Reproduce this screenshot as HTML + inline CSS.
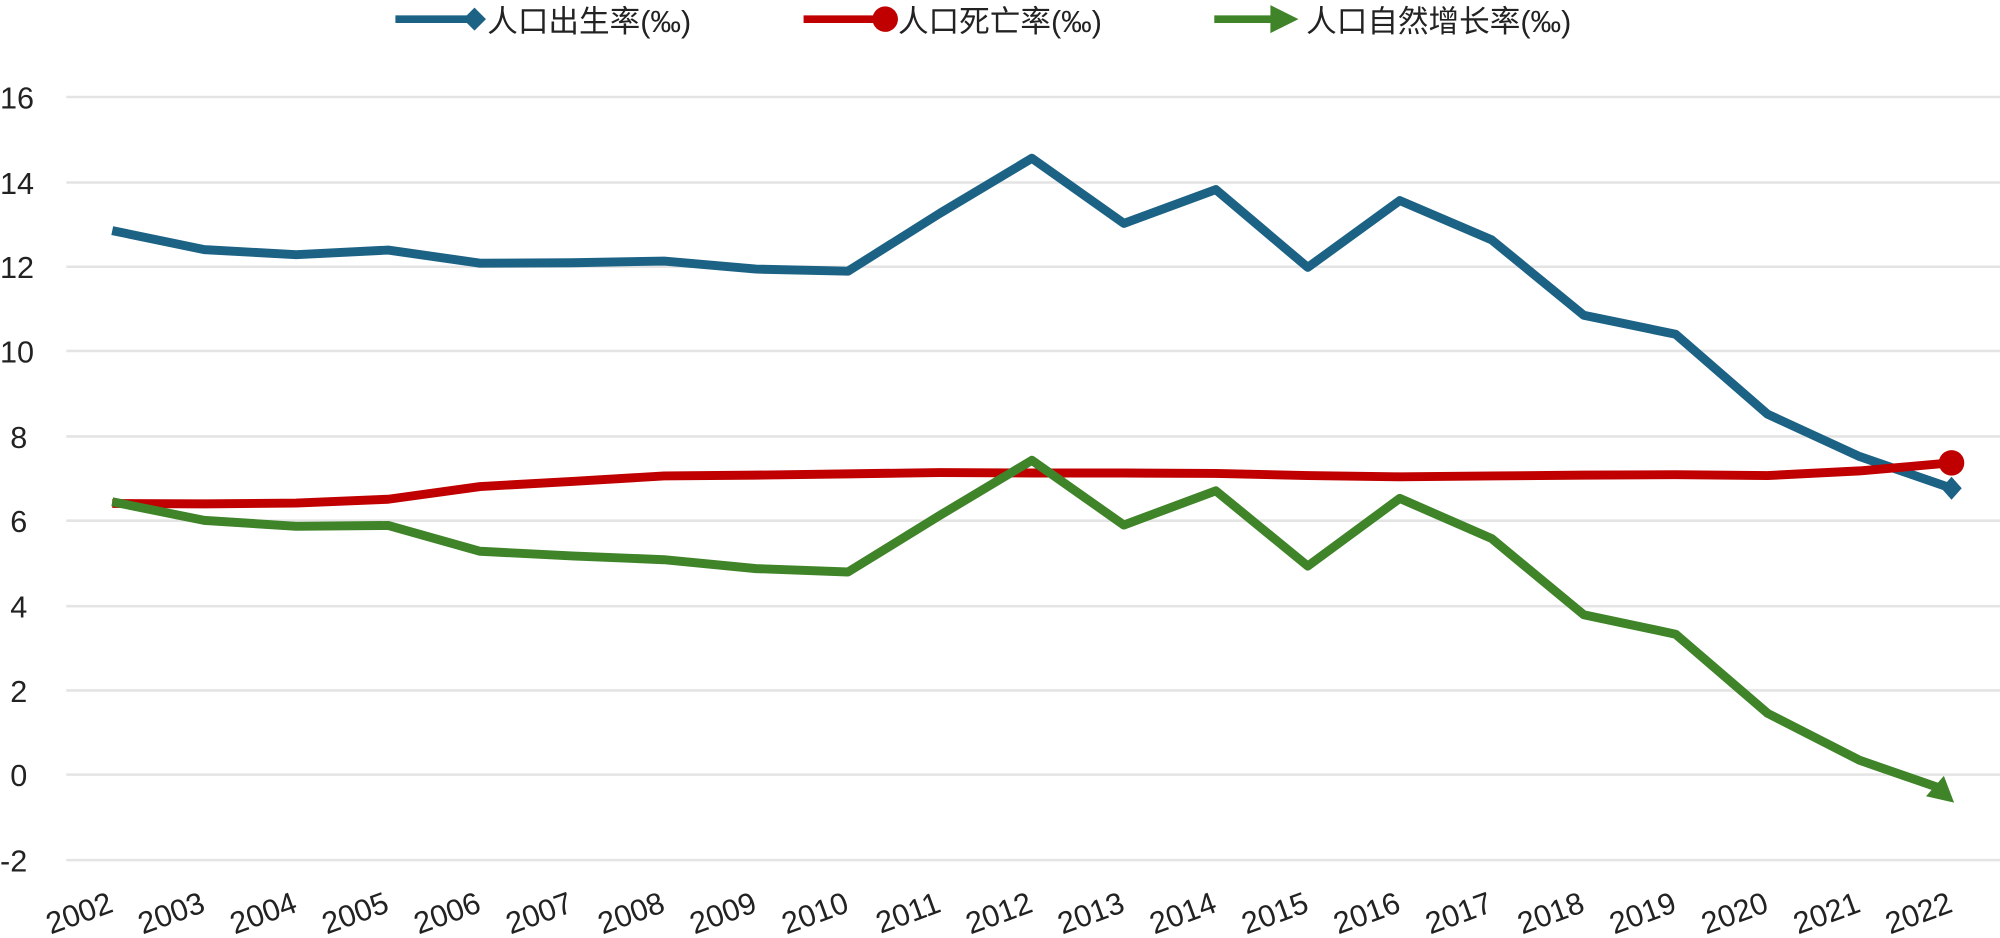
<!DOCTYPE html>
<html><head><meta charset="utf-8"><style>
html,body{margin:0;padding:0;background:#fff;}
svg{display:block;}
text{font-family:"Liberation Sans","Noto Sans CJK SC",sans-serif;fill:#222;}
</style></head><body>
<svg width="2000" height="938" viewBox="0 0 1568 735" preserveAspectRatio="none" xmlns="http://www.w3.org/2000/svg">
<g stroke="#e4e4e4" stroke-width="2">
<line x1="52" x2="1568" y1="76" y2="76"/><line x1="52" x2="1568" y1="143" y2="143"/>
<line x1="52" x2="1568" y1="209" y2="209"/><line x1="52" x2="1568" y1="275" y2="275"/>
<line x1="52" x2="1568" y1="342" y2="342"/><line x1="52" x2="1568" y1="408" y2="408"/>
<line x1="52" x2="1568" y1="475" y2="475"/><line x1="52" x2="1568" y1="541" y2="541"/>
<line x1="52" x2="1568" y1="607" y2="607"/><line x1="52" x2="1568" y1="674" y2="674"/>
</g>
<g font-size="24" text-anchor="start">
<text x="0" y="85">16</text><text x="0" y="152">14</text><text x="0" y="218">12</text>
<text x="0" y="284">10</text><text x="8" y="351">8</text><text x="8" y="417">6</text>
<text x="8" y="484">4</text><text x="8" y="550">2</text><text x="8" y="616">0</text><text x="0" y="683">-2</text>
</g>
<g id="xl" font-size="24" text-anchor="end"></g>
<polyline id="b" fill="none" stroke="#1b6285" stroke-width="7" stroke-linejoin="round"/>
<polyline id="d" fill="none" stroke="#c00000" stroke-width="7" stroke-linejoin="round"/>
<polyline id="n" fill="none" stroke="#3f8428" stroke-width="7" stroke-linejoin="round"/>
<g id="m"></g>
<line x1="310" x2="368" y1="15" y2="15" stroke="#1b6285" stroke-width="6"/>
<polygon points="372,6 381,15 372,24 363,15" fill="#1b6285"/>
<text x="382" y="25" font-size="24">人口出生率(‰)</text>
<line x1="630" x2="690" y1="15" y2="15" stroke="#c00000" stroke-width="6"/>
<circle cx="694" cy="15" r="10" fill="#c00000"/>
<text x="704" y="25" font-size="24">人口死亡率(‰)</text>
<line x1="952" x2="998" y1="15" y2="15" stroke="#3f8428" stroke-width="6"/>
<polygon points="996,4 1018,15 996,26" fill="#3f8428"/>
<text x="1024" y="25" font-size="24">人口自然增长率(‰)</text>
</svg>
<script>
var B=[12.86,12.41,12.29,12.40,12.09,12.10,12.14,11.95,11.90,13.27,14.57,13.03,13.83,11.99,13.57,12.64,10.86,10.41,8.52,7.52,6.77];
var D=[6.41,6.40,6.42,6.51,6.81,6.93,7.06,7.08,7.11,7.14,7.13,7.13,7.12,7.07,7.04,7.06,7.08,7.09,7.07,7.18,7.37];
var N=[6.45,6.01,5.87,5.89,5.28,5.17,5.08,4.87,4.79,6.13,7.43,5.90,6.71,4.93,6.53,5.58,3.78,3.32,1.45,0.34,-0.45];
function X(i){return 88+i*72.1;}function Y(v){return 607-33.15*v;}
function pts(a){return a.map(function(v,i){return X(i)+","+Y(v);}).join(" ");}
document.getElementById('b').setAttribute('points',pts(B));
document.getElementById('d').setAttribute('points',pts(D));
document.getElementById('n').setAttribute('points',pts(N.slice(0,20).concat([N[20]+0.2])).replace(/ [^ ]+$/,' '+(X(20)-8)+','+(Y(N[20])-4)));
var ns='http://www.w3.org/2000/svg',m=document.getElementById('m');
function el(t,a){var e=document.createElementNS(ns,t);for(var k in a)e.setAttribute(k,a[k]);m.appendChild(e);}
var bx=X(20),by=Y(B[20]);el('polygon',{points:(bx)+","+(by-9)+" "+(bx+8)+","+by+" "+bx+","+(by+9)+" "+(bx-8)+","+by,fill:'#1b6285'});
el('circle',{cx:X(20),cy:Y(D[20]),r:10,fill:'#c00000'});
var nx=X(20),ny=Y(N[20]);el('polygon',{points:(nx+2)+","+(ny+7)+" "+(nx-20)+","+(ny+2)+" "+(nx-6)+","+(ny-14),fill:'#3f8428'});
var xl=document.getElementById('xl');
for(var i=0;i<21;i++){var t=document.createElementNS(ns,'text');var x=X(i)+2,y=714;
t.setAttribute('x',x);t.setAttribute('y',y);t.setAttribute('transform','rotate(-20 '+x+' '+y+')');t.textContent=2002+i;xl.appendChild(t);}
</script>
</body></html>
